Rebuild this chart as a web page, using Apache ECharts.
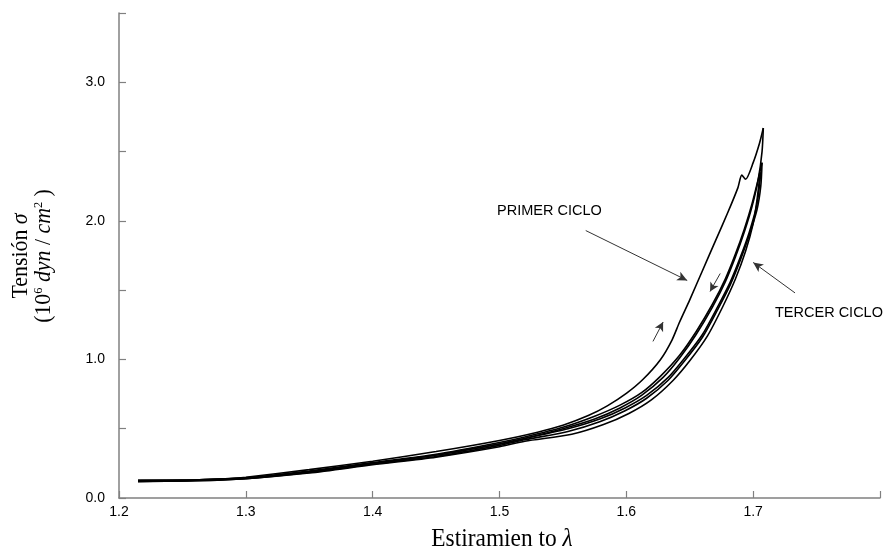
<!DOCTYPE html>
<html>
<head>
<meta charset="utf-8">
<script src="https://cdn.jsdelivr.net/npm/echarts@6/dist/echarts.min.js"></script>
<style>
  html, body { margin: 0; padding: 0; background: #fff; }
  #chart { width: 884px; height: 555px; }
</style>
</head>
<body>
<div id="chart"></div>
<script>
// Axis ticks
const xTicks = [1.2, 1.3, 1.4, 1.5, 1.6, 1.7, 1.8];
const yTicks = [0.0, 0.5, 1.0, 1.5, 2.0, 2.5, 3.0, 3.5];

// First cycle: loading branch
const carga1Lambda = [1.215, 1.25, 1.28, 1.30, 1.35, 1.40, 1.45, 1.50, 1.53, 1.55, 1.57, 1.585, 1.60, 1.613, 1.627, 1.636, 1.642, 1.65, 1.66, 1.67, 1.68, 1.688, 1.691, 1.694, 1.70, 1.705, 1.708];
const carga1Sigma  = [0.13, 0.13, 0.135, 0.15, 0.205, 0.265, 0.335, 0.415, 0.475, 0.525, 0.595, 0.665, 0.755, 0.855, 1.0, 1.14, 1.27, 1.43, 1.64, 1.85, 2.06, 2.24, 2.33, 2.30, 2.42, 2.56, 2.67];

// First cycle: unloading branch
const descarga1Lambda = [1.708, 1.707, 1.704, 1.699, 1.693, 1.686, 1.678, 1.668, 1.655, 1.642, 1.629, 1.612, 1.595, 1.575, 1.55, 1.52, 1.50, 1.45, 1.40, 1.35, 1.30, 1.26, 1.215];
const descarga1Sigma  = [2.67, 2.50, 2.30, 2.10, 1.92, 1.74, 1.56, 1.38, 1.18, 1.01, 0.87, 0.74, 0.65, 0.57, 0.50, 0.43, 0.39, 0.31, 0.25, 0.19, 0.145, 0.13, 0.125];

// Second cycle
const carga2Lambda = [1.215, 1.26, 1.30, 1.35, 1.40, 1.45, 1.50, 1.52, 1.55, 1.575, 1.595, 1.612, 1.627, 1.642, 1.655, 1.668, 1.678, 1.686, 1.693, 1.699, 1.704, 1.707];
const carga2Sigma  = [0.125, 0.13, 0.145, 0.195, 0.255, 0.315, 0.40, 0.44, 0.51, 0.59, 0.67, 0.76, 0.88, 1.03, 1.20, 1.40, 1.58, 1.76, 1.94, 2.12, 2.30, 2.42];
const descarga2Lambda = [1.707, 1.706, 1.703, 1.697, 1.690, 1.682, 1.672, 1.660, 1.646, 1.633, 1.616, 1.599, 1.579, 1.554, 1.52, 1.50, 1.45, 1.40, 1.35, 1.30, 1.26, 1.215];
const descarga2Sigma  = [2.42, 2.25, 2.08, 1.90, 1.72, 1.54, 1.36, 1.16, 0.99, 0.85, 0.72, 0.63, 0.55, 0.48, 0.42, 0.38, 0.30, 0.245, 0.185, 0.14, 0.125, 0.12];

// Third cycle
const carga3Lambda = [1.215, 1.26, 1.30, 1.35, 1.40, 1.45, 1.50, 1.52, 1.554, 1.579, 1.599, 1.616, 1.633, 1.646, 1.660, 1.672, 1.682, 1.690, 1.697, 1.703, 1.706];
const carga3Sigma  = [0.12, 0.128, 0.142, 0.19, 0.25, 0.31, 0.39, 0.43, 0.5, 0.57, 0.65, 0.74, 0.87, 1.01, 1.18, 1.38, 1.56, 1.74, 1.92, 2.12, 2.35];
const descarga3Lambda = [1.706, 1.705, 1.703, 1.700, 1.694, 1.686, 1.676, 1.664, 1.650, 1.637, 1.620, 1.602, 1.582, 1.557, 1.52, 1.50, 1.45, 1.40, 1.35, 1.30, 1.26, 1.215];
const descarga3Sigma  = [2.35, 2.30, 2.15, 1.98, 1.78, 1.58, 1.38, 1.17, 0.99, 0.85, 0.71, 0.61, 0.53, 0.46, 0.41, 0.37, 0.295, 0.24, 0.18, 0.14, 0.125, 0.12];

// Annotation arrows [from, to] in (lambda, sigma)
const flechaPrimer = [[1.568, 1.93], [1.648, 1.57]];
const flechaTercer = [[1.733, 1.48], [1.700, 1.70]];
const flechaSube   = [[1.621, 1.13], [1.629, 1.27]];
const flechaBaja   = [[1.674, 1.62], [1.666, 1.49]];

const curvas = [
  [carga1Lambda, carga1Sigma],
  [descarga1Lambda, descarga1Sigma],
  [carga2Lambda, carga2Sigma],
  [descarga2Lambda, descarga2Sigma],
  [carga3Lambda, carga3Sigma],
  [descarga3Lambda, descarga3Sigma]
];

function pares(lx, ly) { return lx.map((v, i) => [v, ly[i]]); }

const series = curvas.map(c => ({
  type: 'line',
  data: pares(c[0], c[1]),
  showSymbol: false,
  smooth: 0.25,
  lineStyle: { color: '#000', width: 1.6 },
  silent: true,
  z: 3
}));

function flecha(par, tam) {
  return [
    { coord: par[0], symbol: 'none' },
    { coord: par[1], symbol: 'arrow', symbolSize: tam }
  ];
}

series.push({
  type: 'line',
  data: [],
  markLine: {
    silent: true,
    animation: false,
    symbol: ['none', 'arrow'],
    label: { show: false },
    lineStyle: { color: '#333', width: 1, type: 'solid' },
    data: [
      flecha(flechaPrimer, [7, 10]),
      flecha(flechaTercer, [7, 10]),
      flecha(flechaSube, [7, 9]),
      flecha(flechaBaja, [7, 9])
    ]
  }
});

const serif = 'Liberation Serif';
const chart = echarts.init(document.getElementById('chart'), null, { renderer: 'canvas' });
chart.setOption({
  animation: false,
  backgroundColor: '#fff',
  grid: { left: 119, right: 4, top: 13, bottom: 57, containLabel: false },
  xAxis: {
    type: 'value',
    min: xTicks[0], max: xTicks[xTicks.length - 1], interval: 0.1,
    axisLine: { lineStyle: { color: '#808080', width: 1.5 } },
    axisTick: { inside: true, length: 7, lineStyle: { color: '#808080', width: 1.2 } },
    splitLine: { show: false },
    axisLabel: {
      color: '#000', fontFamily: 'Liberation Sans', fontSize: 14, margin: 7,
      formatter: v => (Math.abs(v - 1.8) < 1e-6 ? '' : v.toFixed(1))
    }
  },
  yAxis: {
    type: 'value',
    min: yTicks[0], max: yTicks[yTicks.length - 1], interval: 0.5,
    axisLine: { show: true, lineStyle: { color: '#808080', width: 1.5 } },
    axisTick: { show: true, inside: true, length: 7, lineStyle: { color: '#808080', width: 1.2 } },
    splitLine: { show: false },
    axisLabel: {
      color: '#000', fontFamily: 'Liberation Sans', fontSize: 14, margin: 14,
      formatter: v => (Math.abs(v - Math.round(v)) < 1e-6 && v < 3.4 ? v.toFixed(1) : '')
    }
  },
  series: series,
  graphic: [
    {
      type: 'text', left: 497, top: 203,
      style: { text: 'PRIMER CICLO', font: '14.5px "Liberation Sans"', fill: '#000' }
    },
    {
      type: 'text', left: 775, top: 305,
      style: { text: 'TERCER CICLO', font: '14.5px "Liberation Sans"', fill: '#000' }
    },
    {
      type: 'text', x: 502, y: 539, scaleX: 0.9,
      style: {
        text: '{a|Estiramien to }{b|λ}',
        align: 'center', verticalAlign: 'middle',
        rich: {
          a: { fontFamily: serif, fontSize: 26, fill: '#000' },
          b: { fontFamily: serif, fontSize: 26, fontStyle: 'italic', fill: '#000' }
        }
      }
    },
    {
      type: 'text', x: 32, y: 256, rotation: Math.PI / 2, scaleX: 0.95,
      style: {
        text: '{a|Tensión }{b|σ}\n{a|(10}{s|6}{a| }{b|dyn}{a| / }{b|cm}{s|2}{a| )}',
        align: 'center', verticalAlign: 'middle', lineHeight: 23,
        rich: {
          a: { fontFamily: serif, fontSize: 23, fill: '#000', lineHeight: 23 },
          b: { fontFamily: serif, fontSize: 23, fontStyle: 'italic', fill: '#000', lineHeight: 23 },
          s: { fontFamily: serif, fontSize: 13, fill: '#000', lineHeight: 23, verticalAlign: 'top' }
        }
      }
    }
  ]
});
</script>
</body>
</html>
